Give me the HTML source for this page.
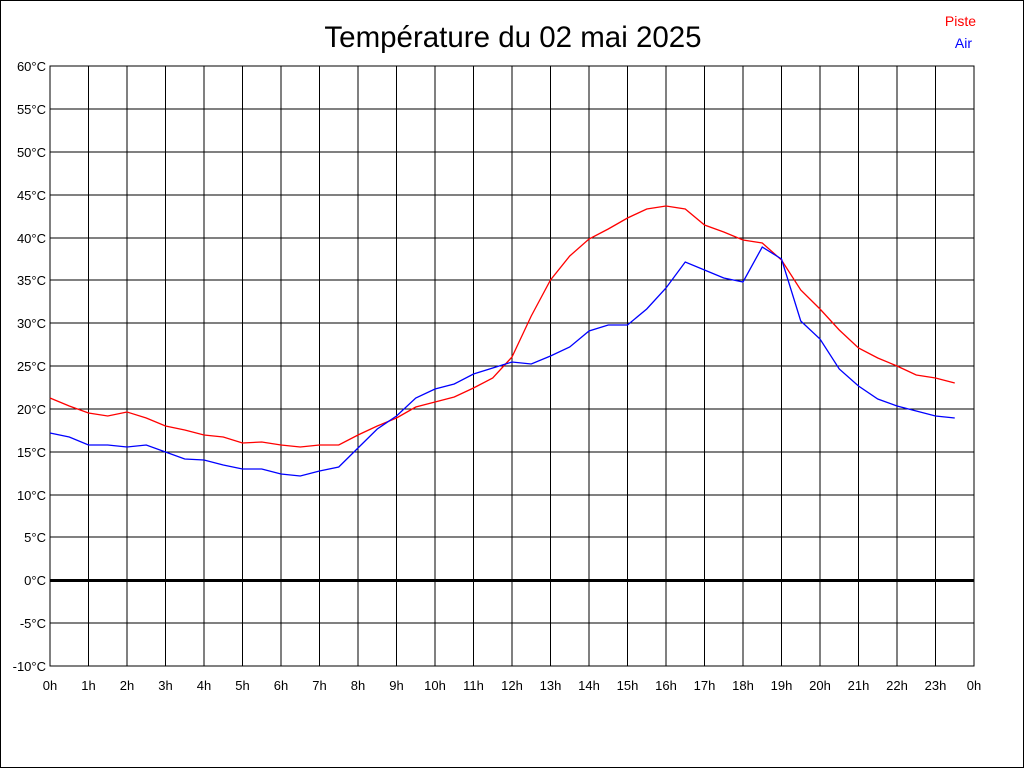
<!DOCTYPE html>
<html><head><meta charset="utf-8"><style>
html,body{margin:0;padding:0;background:#fff}
svg{display:block}
text{font-family:"Liberation Sans",Arial,sans-serif}
</style></head><body>
<svg width="1024" height="768" viewBox="0 0 1024 768" xmlns="http://www.w3.org/2000/svg">
<rect x="0.5" y="0.5" width="1023" height="767" fill="#fff" stroke="#000"/>
<text x="513" y="47" font-size="29.5" text-anchor="middle">Température du 02 mai 2025</text>
<text x="976" y="26" font-size="14" fill="#f00" text-anchor="end">Piste</text>
<text x="972" y="48" font-size="14" fill="#00f" text-anchor="end">Air</text>
<g stroke="#000" stroke-width="1" shape-rendering="crispEdges">
<rect x="50" y="66" width="924" height="600" fill="none"/>
<path d="M88.5 66V666M127 66V666M165.5 66V666M204 66V666M242.5 66V666M281 66V666M319.5 66V666M358 66V666M396.5 66V666M435 66V666M473.5 66V666M512 66V666M550.5 66V666M589 66V666M627.5 66V666M666 66V666M704.5 66V666M743 66V666M781.5 66V666M820 66V666M858.5 66V666M897 66V666M935.5 66V666"/>
<path d="M50 109H974M50 152H974M50 195H974M50 238H974M50 280H974M50 323H974M50 366H974M50 409H974M50 452H974M50 495H974M50 537H974M50 623H974"/>
<rect x="50" y="579" width="924" height="3" fill="#000" stroke="none"/>
</g>
<g font-size="13" text-anchor="end">
<text x="46" y="71">60°C</text><text x="46" y="114">55°C</text><text x="46" y="157">50°C</text><text x="46" y="200">45°C</text><text x="46" y="243">40°C</text><text x="46" y="285">35°C</text><text x="46" y="328">30°C</text><text x="46" y="371">25°C</text><text x="46" y="414">20°C</text><text x="46" y="457">15°C</text><text x="46" y="500">10°C</text><text x="46" y="542">5°C</text><text x="46" y="585">0°C</text><text x="46" y="628">-5°C</text><text x="46" y="671">-10°C</text>
</g>
<g font-size="13" text-anchor="middle">
<text x="50" y="690">0h</text><text x="88.5" y="690">1h</text><text x="127" y="690">2h</text><text x="165.5" y="690">3h</text><text x="204" y="690">4h</text><text x="242.5" y="690">5h</text><text x="281" y="690">6h</text><text x="319.5" y="690">7h</text><text x="358" y="690">8h</text><text x="396.5" y="690">9h</text><text x="435" y="690">10h</text><text x="473.5" y="690">11h</text><text x="512" y="690">12h</text><text x="550.5" y="690">13h</text><text x="589" y="690">14h</text><text x="627.5" y="690">15h</text><text x="666" y="690">16h</text><text x="704.5" y="690">17h</text><text x="743" y="690">18h</text><text x="781.5" y="690">19h</text><text x="820" y="690">20h</text><text x="858.5" y="690">21h</text><text x="897" y="690">22h</text><text x="935.5" y="690">23h</text><text x="974" y="690">0h</text>
</g>
<polyline fill="none" stroke="#f00" stroke-width="1.3" points="50,398 69.25,406 88.5,413 107.75,416 127,412 146.25,418 165.5,426 184.75,430 204,435 223.25,437 242.5,443 261.75,442 281,445 300.25,447 319.5,445 338.75,445 358,435 377.25,426 396.5,418 415.75,407 435,402 454.25,397 473.5,388 492.75,378 512,357 531.25,316 550.5,280 569.75,256 589,239 608.25,229 627.5,218 646.75,209 666,206 685.25,209 704.5,225 723.75,232 743,240 762.25,243 781.5,260 800.75,290 820,309 839.25,330 858.5,348 877.75,358 897,366 916.25,375 935.5,378 954.75,383"/>
<polyline fill="none" stroke="#00f" stroke-width="1.3" points="50,433 69.25,437 88.5,445 107.75,445 127,447 146.25,445 165.5,452 184.75,459 204,460 223.25,465 242.5,469 261.75,469 281,474 300.25,476 319.5,471 338.75,467 358,448 377.25,429 396.5,416 415.75,398 435,389 454.25,384 473.5,374 492.75,368 512,362 531.25,364 550.5,356 569.75,347 589,331 608.25,325 627.5,325 646.75,309 666,288 685.25,262 704.5,270 723.75,278 743,282 762.25,247 781.5,259 800.75,321 820,339 839.25,369 858.5,386 877.75,399 897,406 916.25,411 935.5,416 954.75,418"/>
</svg>
</body></html>
